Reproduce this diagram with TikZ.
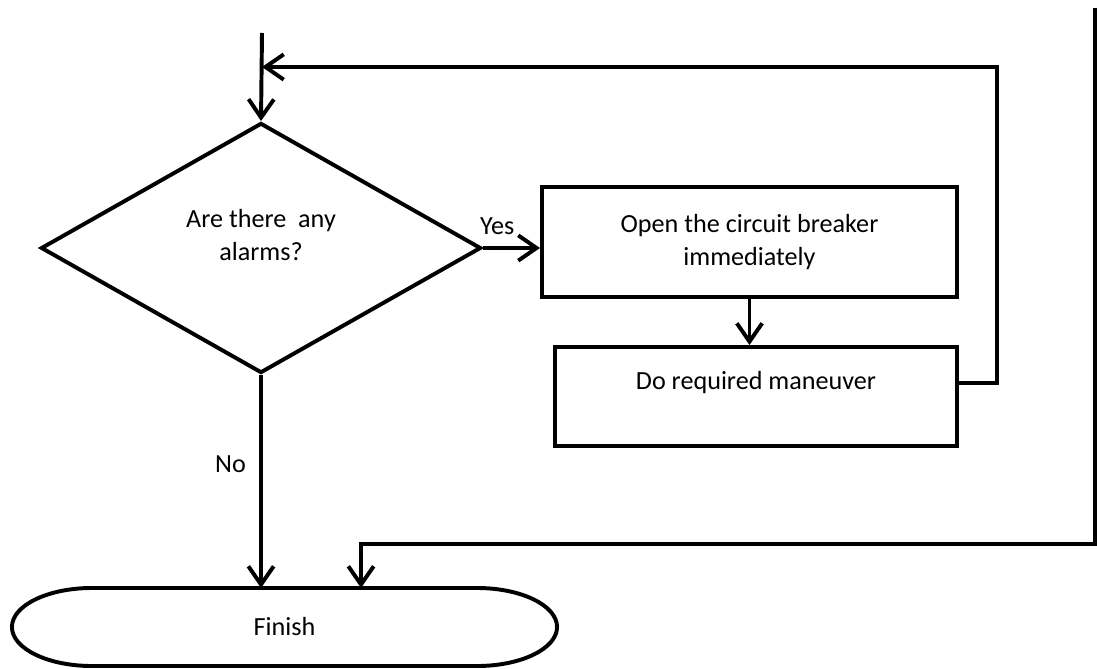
\documentclass[tikz,border=0pt]{standalone}
\usepackage{fontspec}
\setmainfont{Carlito}
\usetikzlibrary{arrows.meta, shapes.geometric}

\begin{document}
\begin{tikzpicture}[x=0.025cm, y=-0.025cm, line width=2.8pt,
    >={Straight Barb[length=13pt,width=18pt]},
    every node/.style={font=\fontsize{18.6}{24}\selectfont, align=center},
    box/.style={draw, rectangle, inner sep=0pt}]
  \useasboundingbox (0,0) rectangle (1097,669);
  \node[draw, diamond, inner sep=0pt, minimum width=11cm, minimum height=6.25cm] (alarm) at (261,248) {};
  \node (alarmtxt) at (261,235) {Are there\ \ any\\alarms?};
  \node[box, minimum width=10.375cm, minimum height=2.75cm] (open) at (749.5,242) {Open the circuit breaker\\immediately};
  \node[box, minimum width=10.05cm, minimum height=2.475cm] (maneuver) at (756,396.5) {};
  \node (maneuvertxt) at (756,383) {Do required maneuver};
  \node[outer sep=0pt, minimum width=13.625cm, minimum height=1.95cm] (finish) at (284.5,627) {Finish};
  \draw ([xshift=2cm]finish.north west) -- ([xshift=-2cm]finish.north east)
    arc[start angle=90, end angle=-90, x radius=2cm, y radius=0.975cm]
    -- ([xshift=2cm]finish.south west)
    arc[start angle=270, end angle=90, x radius=2cm, y radius=0.975cm] -- cycle;
  \coordinate (start) at (262,33);
  \coordinate (loop) at (997,67);
  \coordinate (edge) at (1095,8);
  \coordinate (back) at (361,544);
  \draw[->] (start) -- (alarm.north);
  \draw[->] (alarm.east) -- (alarm.east -| open.west) node[pos=.25, above=5pt] {Yes};
  \draw[->] (open.south) -- (open.south |- maneuver.north);
  \draw[->] (maneuvertxt -| maneuver.east) -| (loop) -- (loop -| start);
  \draw[->] (alarm.south) -- (alarm.south |- finish.north) node[pos=.42, left=6pt] {No};
  \draw[->] (edge) |- (back) -- (back |- finish.north);
\end{tikzpicture}
\end{document}
